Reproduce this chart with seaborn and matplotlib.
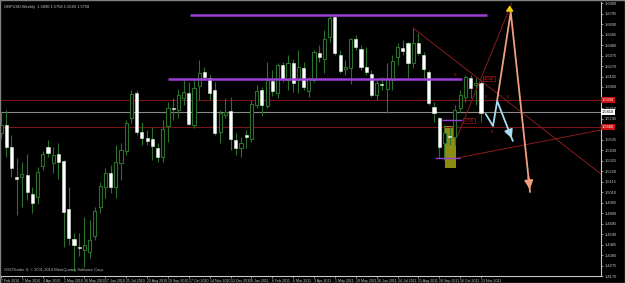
import numpy as np
import pandas as pd
import matplotlib
matplotlib.use("Agg")
import matplotlib.pyplot as plt
import seaborn as sns

# ---------------- data (GBPUSD weekly) ----------------
week = list(range(93))  # weeks since 7 Feb 2010
open_ = [1.560,1.568,1.546,1.5163,1.516,1.518,1.499,1.496,1.527,1.546,1.530,1.539,1.532,1.484,1.454,1.446,1.443,1.441,1.457,1.486,
         1.506,1.520,1.506,1.530,1.542,1.575,1.600,1.561,1.555,1.554,1.545,1.536,1.567,1.585,1.583,1.595,1.600,1.568,1.607,1.621,
         1.615,1.603,1.561,1.578,1.582,1.553,1.545,1.558,1.554,1.588,1.603,1.587,1.612,1.600,1.628,1.613,1.630,1.613,1.625,1.602,
         1.613,1.640,1.634,1.656,1.676,1.638,1.624,1.625,1.654,1.644,1.626,1.619,1.598,1.609,1.604,1.613,1.636,1.645,1.650,1.630,
         1.650,1.638,1.621,1.586,1.575,1.550,1.557,1.556,1.585,1.596,1.615,1.6085,1.610]
high = [1.581,1.583,1.558,1.535,1.531,1.539,1.506,1.526,1.542,1.553,1.546,1.550,1.533,1.506,1.460,1.460,1.476,1.473,1.486,1.511,
        1.525,1.528,1.548,1.550,1.573,1.603,1.603,1.571,1.563,1.566,1.550,1.573,1.591,1.595,1.604,1.613,1.611,1.613,1.633,1.626,
        1.618,1.611,1.583,1.595,1.596,1.560,1.556,1.563,1.593,1.608,1.606,1.631,1.623,1.630,1.631,1.638,1.634,1.643,1.631,1.616,
        1.643,1.648,1.663,1.678,1.677,1.643,1.633,1.655,1.658,1.648,1.646,1.623,1.613,1.616,1.630,1.638,1.650,1.653,1.651,1.665,
        1.660,1.641,1.623,1.591,1.576,1.568,1.565,1.588,1.603,1.618,1.618,1.615,1.613]
low = [1.555,1.536,1.516,1.478,1.486,1.493,1.480,1.489,1.523,1.536,1.520,1.514,1.446,1.448,1.422,1.437,1.426,1.435,1.453,1.480,
       1.495,1.500,1.495,1.513,1.538,1.570,1.558,1.548,1.548,1.533,1.531,1.531,1.551,1.573,1.575,1.588,1.568,1.565,1.593,1.613,
       1.593,1.558,1.550,1.575,1.543,1.538,1.536,1.545,1.551,1.585,1.577,1.585,1.597,1.595,1.611,1.603,1.601,1.600,1.603,1.596,
       1.611,1.631,1.620,1.651,1.638,1.620,1.618,1.609,1.643,1.623,1.618,1.596,1.593,1.603,1.580,1.603,1.628,1.638,1.615,1.625,
       1.638,1.613,1.588,1.571,1.535,1.533,1.548,1.548,1.581,1.591,1.595,1.588,1.571]
close = [1.568,1.546,1.525,1.5143,1.519,1.501,1.490,1.521,1.539,1.540,1.538,1.531,1.481,1.455,1.448,1.445,1.448,1.453,1.482,1.507,
         1.520,1.506,1.531,1.543,1.570,1.599,1.561,1.555,1.552,1.547,1.536,1.564,1.585,1.5845,1.598,1.601,1.569,1.605,1.620,1.616,
         1.600,1.560,1.580,1.581,1.554,1.545,1.550,1.556,1.589,1.602,1.588,1.613,1.602,1.628,1.614,1.630,1.610,1.626,1.606,1.614,
         1.641,1.636,1.654,1.675,1.640,1.622,1.626,1.654,1.646,1.626,1.621,1.598,1.610,1.608,1.615,1.632,1.646,1.642,1.630,1.650,
         1.640,1.624,1.590,1.580,1.546,1.560,1.5565,1.583,1.598,1.616,1.605,1.610,1.580]

# x-axis labels every 4 weeks
date_labels = ["7 Feb 2010","7 Mar 2010","4 Apr 2010","2 May 2010","30 May 2010","27 Jun 2010","25 Jul 2010",
               "22 Aug 2010","19 Sep 2010","17 Oct 2010","14 Nov 2010","12 Dec 2010","9 Jan 2011","6 Feb 2011",
               "6 Mar 2011","3 Apr 2011","1 May 2011","29 May 2011","26 Jun 2011","24 Jul 2011","21 Aug 2011",
               "18 Sep 2011","16 Oct 2011","13 Nov 2011"]
date_weeks = [4*i for i in range(len(date_labels))]

price_ticks = [1.6900,1.6795,1.6690,1.6585,1.6480,1.6375,1.6270,1.6165,1.6060,1.5955,1.5850,1.5745,1.5640,
               1.5535,1.5430,1.5325,1.5220,1.5115,1.5010,1.4905,1.4800,1.4695,1.4590,1.4485,1.4380,1.4275,1.4170]

# horizontal levels
red_levels = [1.5930, 1.5660]
bid_level = 1.5810
purple_top = (36.2, 93.1, 1.6780)
purple_mid = (32.0, 88.4, 1.6140)
purple_small = [(84.5, 88.4, 1.5730), (83.2, 88.0, 1.5350)]

# trend lines (week, price)
trend1_w, trend1_p = [79.0, 115.0], [1.6650, 1.5190]
trend2_w, trend2_p = [87.4, 115.0], [1.5350, 1.5630]
trend3_w, trend3_p = [87.4, 97.9], [1.5560, 1.6900]
orange_w, orange_p = [95.1, 97.7, 101.4], [1.5930, 1.6810, 1.5010]
blue_w, blue_p = [92.9, 94.3, 95.1, 98.1], [1.5790, 1.5670, 1.5920, 1.5520]
yellow_box = (85.1, 87.2, 1.5250, 1.5670)

# ---------------- style ----------------
sns.set_style("dark", {"axes.facecolor": "black", "figure.facecolor": "black",
                       "axes.edgecolor": "#9a9a9a", "grid.color": "black"})
plt.rcParams['font.family'] = ['Liberation Sans Narrow', 'Liberation Sans', 'DejaVu Sans']

fig = plt.figure(figsize=(6.25, 2.83), dpi=100)
fig.patch.set_facecolor("black")
ax = fig.add_axes([1/625, 7/283, 600/625, 274/283])
ax.set_facecolor("black")

W0, W1 = 0.04, 115.0
P0, P1 = 1.4170, 1.6910
ax.set_xlim(W0, W1)
ax.set_ylim(P0, P1)

green = "#2a722a"
lab = "#c8c8c8"
FS = 2.9
FSX = 2.65

# yellow box under candles
ax.add_patch(plt.Rectangle((yellow_box[0], yellow_box[2]), yellow_box[1]-yellow_box[0],
                           yellow_box[3]-yellow_box[2], facecolor="#8c8c14", edgecolor="none", zorder=1))

# horizontal levels
for lv in red_levels:
    ax.axhline(lv, color="#7a1414", lw=0.8, zorder=2)
ax.axhline(bid_level, color="#8a8a8a", lw=0.8, zorder=2)

# candles
df = pd.DataFrame({"week": week, "open": open_, "high": high, "low": low, "close": close})
ax.vlines(df["week"], df["low"], df["high"], color=green, lw=0.8, zorder=3)
bull = df[df["close"] >= df["open"]]
bear = df[df["close"] < df["open"]]
ax.bar(bull["week"], bull["close"]-bull["open"], bottom=bull["open"], width=0.6,
       color="black", edgecolor=green, linewidth=0.8, zorder=4)
ax.bar(bear["week"], bear["open"]-bear["close"], bottom=bear["close"], width=0.6,
       color="white", edgecolor="#d8f0d8", linewidth=0.4, zorder=4)

# purple levels
purple = "#9b3fd6"
ax.hlines(purple_top[2], purple_top[0], purple_top[1], color=purple, lw=1.8, zorder=5)
ax.hlines(purple_mid[2], purple_mid[0], purple_mid[1], color=purple, lw=1.8, zorder=5)
for a, b, p in purple_small:
    ax.hlines(p, a, b, color=purple, lw=1.0, zorder=5)

# trend lines
tl = pd.DataFrame({"w": trend1_w + trend2_w + trend3_w,
                   "p": trend1_p + trend2_p + trend3_p,
                   "id": ["a"]*2 + ["b"]*2 + ["c"]*2})
sns.lineplot(data=tl, x="w", y="p", units="id", estimator=None, color="#8a1c1c", lw=0.7,
             ax=ax, zorder=6, sort=False)

# orange projection arrow
ax.plot(orange_w, orange_p, color="#f0a080", lw=1.3, zorder=7, solid_capstyle="round")
ax.annotate("", xy=(orange_w[-1], orange_p[-1]), xytext=(orange_w[-2] + (orange_w[-1]-orange_w[-2])*0.9,
            orange_p[-2] + (orange_p[-1]-orange_p[-2])*0.9),
            arrowprops=dict(arrowstyle="-|>,head_width=0.25,head_length=0.5", color="#f0a080", lw=1.3), zorder=7)
# light blue arrow
ax.plot(blue_w, blue_p, color="#a8dcf5", lw=1.3, zorder=7)
ax.annotate("", xy=(blue_w[-1], blue_p[-1]), xytext=(blue_w[-2] + (blue_w[-1]-blue_w[-2])*0.8,
            blue_p[-2] + (blue_p[-1]-blue_p[-2])*0.8),
            arrowprops=dict(arrowstyle="-|>,head_width=0.25,head_length=0.5", color="#a8dcf5", lw=1.3), zorder=7)
# yellow up arrow
ax.annotate("", xy=(97.5, 1.6905), xytext=(97.5, 1.6815),
            arrowprops=dict(arrowstyle="-|>,head_width=0.2,head_length=0.3", color="#f0d000", lw=1.2), zorder=8)

# small red markers / labels
for (w, p, t) in [(87.0, 1.6180, "0"), (92.9, 1.5960, "0"), (97.1, 1.5960, "0"), (94.1, 1.5610, "0")]:
    ax.text(w, p, t, color="#c02020", fontsize=3.2, ha="center", va="center", zorder=9)
ax.text(92.4, 1.6145, "1.6140", color="#d02020", fontsize=2.6, ha="left", va="center", zorder=9,
        bbox=dict(boxstyle="square,pad=0.15", fc="black", ec="#a01818", lw=0.5))
ax.text(88.6, 1.5725, "1.5725", color="#d02020", fontsize=2.6, ha="left", va="center", zorder=9,
        bbox=dict(boxstyle="square,pad=0.15", fc="black", ec="#a01818", lw=0.5))

# axes: price on right (labels hidden where a price box covers them, as in the terminal)
box_levels = red_levels + [bid_level]
ytl = ["" if min(abs(v - b) for b in box_levels) < 0.0035 else f"{v:.4f}" for v in price_ticks]
ax.yaxis.tick_right()
ax.set_yticks(price_ticks)
ax.set_yticklabels(ytl, color=lab, fontsize=FS)
ax.tick_params(axis="y", length=1.5, width=0.5, color="#c0c0c0", pad=1, right=True, left=False)
ax.set_xticks(date_weeks)
ax.set_xticklabels(date_labels, color=lab, fontsize=FSX, ha="left")
ax.tick_params(axis="x", length=1.5, width=0.5, color="#c0c0c0", pad=0.4, bottom=True)
for s in ["left", "top"]:
    ax.spines[s].set_visible(False)
for s in ["right", "bottom"]:
    ax.spines[s].set_color("#c8c8c8")
    ax.spines[s].set_linewidth(0.8)
ax.set_xlabel("")
ax.set_ylabel("")
ax.grid(False)

# right-axis price boxes
for lv in red_levels:
    ax.text(1.0015, lv, f"{lv:.4f}", transform=ax.get_yaxis_transform(), color="white", fontsize=FS,
            ha="left", va="center", bbox=dict(boxstyle="square,pad=0.25", fc="#d01010", ec="none"), zorder=10,
            clip_on=False)
ax.text(1.0015, bid_level, f"{bid_level:.4f}", transform=ax.get_yaxis_transform(), color="black", fontsize=FS,
        ha="left", va="center", bbox=dict(boxstyle="square,pad=0.25", fc="white", ec="none"), zorder=10, clip_on=False)

# texts
fig.text(4/625, 1-7/283, "GBPUSD,Weekly  1.5690 1.5758 1.5649 1.5758", color=lab, fontsize=FS,
         ha="left", va="center")
fig.text(4/625, 13/283, "GSOTrader 4, © 2001-2014 MetaQuotes Software Corp.", color="#b8b8b8", fontsize=FS,
         ha="left", va="center")

# outer border
fig.add_artist(plt.Rectangle((0, 0), 1, 1, transform=fig.transFigure, fill=False, ec="#808080", lw=1.0))

fig.savefig("out.png", dpi=100, facecolor="black")
